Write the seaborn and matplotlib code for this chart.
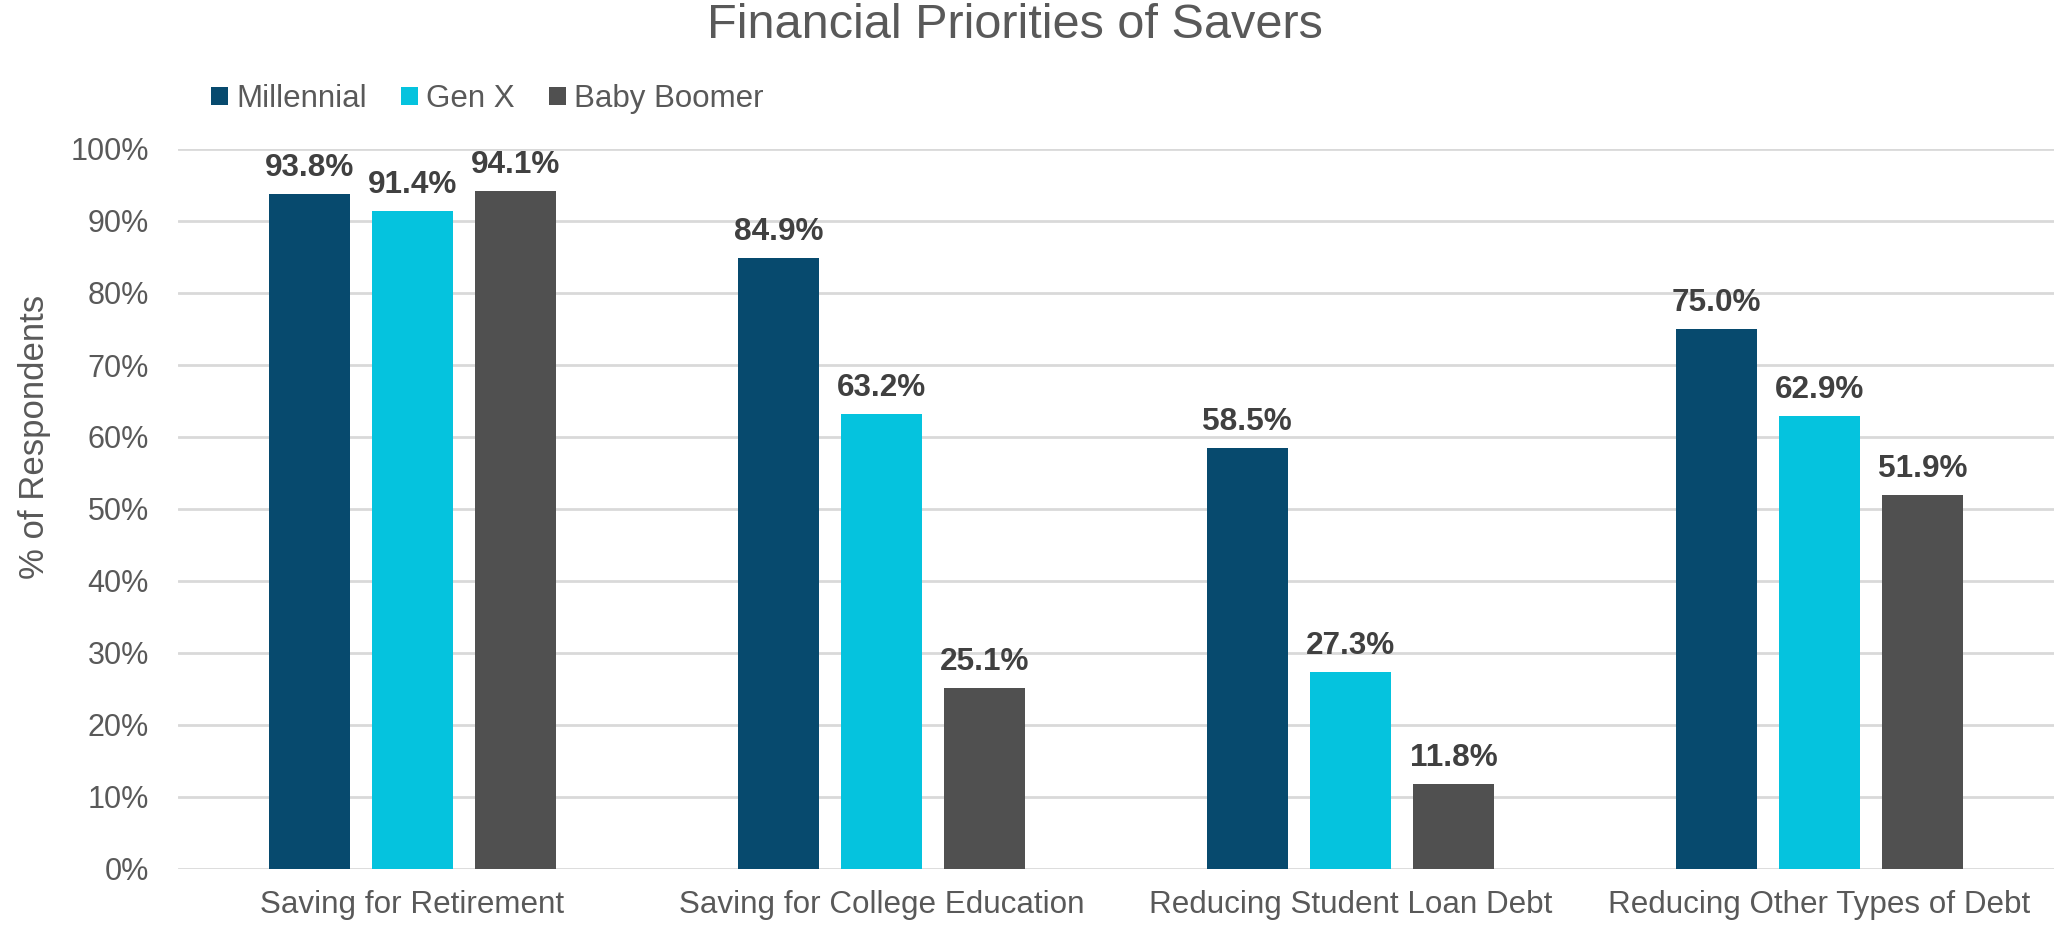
import matplotlib
matplotlib.use("Agg")
import matplotlib.pyplot as plt
from matplotlib.patches import Patch
import seaborn as sns
import pandas as pd

categories = ["Saving for Retirement", "Saving for College Education",
              "Reducing Student Loan Debt", "Reducing Other Types of Debt"]
generations = ["Millennial", "Gen X", "Baby Boomer"]
millennial = [0.938, 0.849, 0.585, 0.750]
gen_x = [0.914, 0.632, 0.273, 0.629]
baby_boomer = [0.941, 0.251, 0.118, 0.519]
colors = ["#074A6E", "#05C3DE", "#505050"]
yticks = [0.0, 0.1, 0.2, 0.3, 0.4, 0.5, 0.6, 0.7, 0.8, 0.9, 1.0]

rows = []
for gen, vals in zip(generations, [millennial, gen_x, baby_boomer]):
    for cat, v in zip(categories, vals):
        rows.append({"category": cat, "generation": gen, "value": v})
df = pd.DataFrame(rows)

sns.set_theme(style="white")
plt.rcParams["font.family"] = ["Liberation Sans", "DejaVu Sans"]
text_gray = "#595959"

fig = plt.figure(figsize=(20.54, 9.26), dpi=100)
ax = fig.add_axes([178 / 2054, 1 - 869 / 926, 1 - 178 / 2054, (869 - 149) / 926])

sns.barplot(data=df, x="category", y="value", hue="generation",
            order=categories, hue_order=generations, palette=colors,
            width=0.66, gap=0.214, saturation=1, linewidth=0,
            legend=False, ax=ax, errorbar=None)

for cont in ax.containers:
    ax.bar_label(cont, fmt=lambda v: f"{v * 100:.1f}%", padding=8,
                 fontsize=22.7, fontweight="bold", color="#404040", clip_on=False)

ax.set_xlim(-0.5, 3.5)
ax.set_ylim(0, 1.0)
ax.set_yticks(yticks)
ax.set_yticklabels([f"{int(round(t * 100))}%" for t in yticks])
ax.yaxis.grid(True, color="#D9D9D9", linewidth=2)
ax.set_axisbelow(True)
for s in ax.spines.values():
    s.set_visible(False)
ax.tick_params(axis="y", length=0, pad=21, labelsize=22, labelcolor=text_gray)
ax.tick_params(axis="x", length=0, pad=15, labelsize=22.6, labelcolor=text_gray)
ax.set_xlabel("")
ax.set_ylabel("")

fig.text(35 / 2054, 1 - 437 / 926, "% of Respondents", rotation=90,
         ha="center", va="center", fontsize=25, color=text_gray)
fig.text(1015 / 2054, 1 - 26 / 926, "Financial Priorities of Savers",
         ha="center", va="center", fontsize=35, color=text_gray)

handles = [Patch(facecolor=c, edgecolor="none", label=g) for g, c in zip(generations, colors)]
leg = fig.legend(handles=handles, loc="center left", bbox_to_anchor=(211 / 2054, 1 - 99 / 926),
                 ncol=3, frameon=False, fontsize=22.5, handlelength=0.55, handleheight=0.55,
                 handletextpad=0.25, columnspacing=1.1, borderpad=0, borderaxespad=0)
for t in leg.get_texts():
    t.set_color(text_gray)

fig.savefig("out.png", dpi=100)
